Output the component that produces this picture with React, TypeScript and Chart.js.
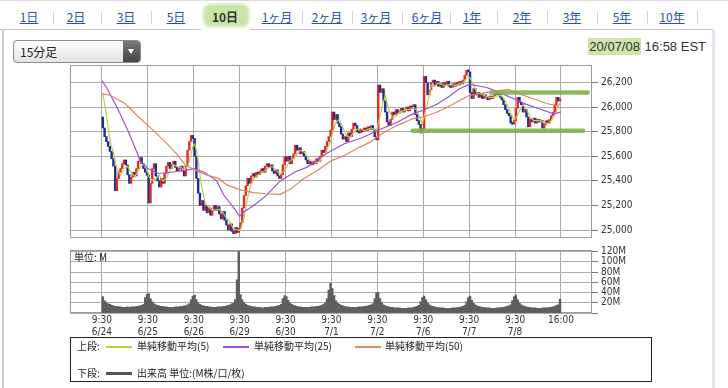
import React, { useEffect, useRef } from 'react';
import { Chart, registerables } from 'chart.js';

Chart.register(...registerables);

// ---------------- data ----------------
const tabLabels = ['1日', '2日', '3日', '5日', '10日', '1ヶ月', '2ヶ月', '3ヶ月', '6ヶ月', '1年', '2年', '3年', '5年', '10年'];
const selectedTab = '10日';
const intervalLabel = '15分足';
const dateStamp = '20/07/08';
const timeStamp = '16:58 EST';
const volumeUnitLabel = '単位: M';
const legendUpper = '上段:';
const legendLower = '下段:';
const maLabels = ['単純移動平均(5)', '単純移動平均(25)', '単純移動平均(50)'];
const volumeLegendLabel = '出来高 単位:(M株/口/枚)';

const dayLabels = ['6/24', '6/25', '6/26', '6/29', '6/30', '7/1', '7/2', '7/6', '7/7', '7/8'];
const openTimeLabel = '9:30';
const closeTimeLabel = '16:00';
const barsPerDay = 26;

const priceTicks = [25000, 25200, 25400, 25600, 25800, 26000, 26200];
const priceMin = 24935;
const priceMax = 26343;
const volumeTicks = [0, 20, 40, 60, 80, 100, 120];
const volumeMax = 123.3;
const barRangeMin = -18.1;
const barRangeMax = 277.6;

const firstOpen = 25920;
// 15-minute closes per day
const close0 = [25830, 25760, 25720, 25680, 25640, 25580, 25520, 25320, 25420, 25470, 25500, 25540, 25570, 25530, 25450, 25380, 25430, 25470, 25440, 25500, 25560, 25590, 25540, 25500, 25470, 25445];
const close1 = [25220, 25380, 25500, 25540, 25440, 25400, 25350, 25420, 25380, 25460, 25520, 25550, 25500, 25530, 25560, 25510, 25480, 25500, 25520, 25480, 25440, 25520, 25650, 25720, 25770, 25745];
const close2 = [25600, 25420, 25300, 25200, 25240, 25160, 25200, 25140, 25180, 25120, 25160, 25200, 25160, 25190, 25130, 25090, 25150, 25080, 25040, 25000, 25050, 24990, 24970, 25020, 24980, 25015];
const close3 = [25060, 25180, 25280, 25360, 25420, 25380, 25440, 25460, 25430, 25470, 25450, 25480, 25500, 25470, 25520, 25540, 25510, 25530, 25480, 25460, 25490, 25440, 25420, 25450, 25530, 25595];
const close4 = [25560, 25600, 25540, 25580, 25620, 25690, 25650, 25670, 25620, 25640, 25600, 25570, 25540, 25560, 25530, 25560, 25540, 25580, 25560, 25600, 25650, 25630, 25680, 25720, 25760, 25812];
const close5 = [25960, 25900, 25940, 25870, 25840, 25780, 25740, 25760, 25720, 25790, 25760, 25820, 25870, 25850, 25800, 25790, 25820, 25800, 25830, 25810, 25840, 25820, 25850, 25820, 25760, 25734];
const close6 = [26180, 26120, 26150, 26050, 25960, 25880, 25850, 25900, 25960, 25940, 25980, 25950, 25970, 25990, 25960, 25980, 26000, 25970, 26010, 25990, 26020, 25940, 25890, 25860, 25790, 25827];
const close7 = [26250, 26200, 26100, 26140, 26200, 26220, 26180, 26210, 26170, 26190, 26160, 26200, 26180, 26210, 26170, 26160, 26190, 26170, 26200, 26180, 26210, 26190, 26220, 26260, 26300, 26287];
const close8 = [26120, 26070, 26150, 26100, 26120, 26080, 26110, 26070, 26100, 26080, 26060, 26090, 26070, 26090, 26110, 26100, 26110, 26080, 26060, 26020, 25980, 25950, 25930, 25870, 25860, 25890];
const close9 = [25990, 26080, 26040, 26020, 25960, 25980, 25920, 25840, 25900, 25880, 25910, 25870, 25900, 25880, 25890, 25830, 25860, 25890, 25870, 25900, 25930, 25960, 26020, 26080, 26050, 26067];

// volume (M) per 15-minute bar
const vol0 = [32, 24, 20, 18, 17, 15, 14, 13, 13, 12, 12, 11, 11, 11, 12, 11, 12, 12, 12, 13, 13, 14, 15, 17, 30, 36];
const vol1 = [38, 28, 22, 18, 16, 15, 14, 13, 13, 12, 12, 11, 11, 11, 11, 12, 12, 12, 13, 13, 14, 14, 16, 18, 26, 33];
const vol2 = [35, 26, 20, 17, 15, 14, 13, 13, 12, 12, 11, 11, 11, 12, 12, 12, 13, 13, 14, 15, 16, 18, 20, 26, 65, 120];
const vol3 = [36, 26, 20, 17, 15, 14, 13, 12, 12, 11, 11, 11, 10, 10, 11, 11, 11, 12, 12, 12, 13, 14, 15, 17, 28, 34];
const vol4 = [32, 25, 20, 17, 15, 14, 13, 12, 12, 11, 11, 11, 11, 11, 12, 12, 12, 13, 13, 14, 15, 17, 20, 28, 45, 58];
const vol5 = [48, 34, 24, 19, 17, 15, 14, 13, 12, 12, 11, 11, 11, 11, 11, 12, 12, 12, 13, 13, 14, 15, 16, 18, 28, 40];
const vol6 = [40, 28, 20, 16, 14, 13, 12, 11, 11, 10, 10, 10, 10, 9, 9, 9, 9, 10, 10, 10, 11, 12, 13, 15, 22, 30];
const vol7 = [33, 26, 20, 16, 14, 13, 12, 11, 11, 10, 10, 10, 9, 9, 9, 9, 10, 10, 10, 11, 11, 12, 13, 15, 22, 30];
const vol8 = [33, 25, 19, 16, 14, 13, 12, 11, 11, 10, 10, 10, 9, 9, 9, 10, 10, 10, 11, 11, 12, 13, 14, 16, 24, 32];
const vol9 = [35, 26, 20, 16, 14, 13, 12, 11, 11, 10, 10, 10, 9, 9, 9, 10, 10, 10, 10, 11, 11, 12, 13, 15, 16, 27];

// moving averages (bar index -> value)
const sma5Bars = [0, 1, 2, 3, 4, 6, 8, 10, 12, 14, 16, 18, 20, 22, 24, 25, 26, 28, 30, 32, 34, 36, 38, 40, 42, 44, 46, 48, 49, 50, 51, 52, 53, 54, 55, 56, 58, 60, 62, 64, 66, 68, 70, 72, 74, 76, 77, 78, 79, 80, 81, 82, 84, 86, 88, 90, 92, 94, 96, 98, 100, 102, 103, 104, 106, 108, 110, 112, 114, 116, 118, 120, 122, 124, 126, 128, 129, 130, 131, 132, 134, 136, 138, 140, 142, 144, 146, 148, 150, 152, 154, 155, 156, 157, 158, 159, 160, 162, 164, 166, 168, 170, 172, 174, 176, 178, 180, 181, 182, 183, 184, 185, 186, 188, 190, 192, 194, 196, 198, 200, 202, 204, 206, 207, 208, 209, 210, 212, 214, 216, 218, 220, 222, 224, 226, 228, 230, 232, 233, 234, 236, 238, 240, 242, 244, 246, 248, 250, 252, 254, 256, 258, 259];
const sma5Values = [26110, 26026, 25934, 25834, 25726, 25628, 25496, 25446, 25500, 25518, 25472, 25434, 25480, 25526, 25532, 25509, 25435, 25403, 25416, 25446, 25398, 25426, 25482, 25532, 25516, 25514, 25484, 25522, 25562, 25620, 25681, 25697, 25651, 25567, 25453, 25352, 25220, 25184, 25160, 25164, 25168, 25144, 25098, 25064, 25010, 25002, 24995, 25009, 25051, 25103, 25179, 25260, 25376, 25426, 25450, 25466, 25484, 25508, 25516, 25494, 25458, 25466, 25487, 25511, 25565, 25580, 25616, 25650, 25636, 25594, 25560, 25546, 25554, 25586, 25624, 25688, 25720, 25786, 25830, 25874, 25902, 25834, 25768, 25754, 25792, 25820, 25826, 25808, 25820, 25830, 25818, 25797, 25869, 25923, 25989, 26047, 26092, 25978, 25910, 25926, 25960, 25970, 25980, 25984, 25998, 25970, 25900, 25861, 25923, 25985, 26033, 26103, 26178, 26168, 26196, 26182, 26180, 26184, 26182, 26178, 26190, 26200, 26236, 26251, 26237, 26207, 26185, 26112, 26112, 26096, 26084, 26080, 26084, 26096, 26092, 26050, 25988, 25918, 25900, 25908, 25972, 26018, 25984, 25920, 25890, 25892, 25890, 25872, 25868, 25890, 25936, 26008, 26035];
const sma25Bars = [0, 3, 9, 15, 19, 22, 26, 32, 39, 47, 52, 58, 65, 69, 75, 78, 80, 86, 93, 101, 109, 116, 124, 130, 137, 148, 156, 167, 176, 182, 190, 197, 202, 208, 218, 225, 233, 240, 248, 256, 260];
const sma25Values = [26215, 26150, 25985, 25800, 25660, 25555, 25500, 25460, 25470, 25485, 25500, 25470, 25400, 25285, 25175, 25110, 25145, 25200, 25280, 25400, 25470, 25510, 25595, 25645, 25700, 25755, 25810, 25875, 25945, 25975, 26025, 26090, 26145, 26185, 26160, 26120, 26070, 26025, 25985, 25945, 25960];
const sma50Bars = [0, 5, 13, 20, 28, 36, 43, 47, 53, 60, 66, 71, 79, 86, 93, 101, 107, 114, 122, 130, 137, 144, 152, 158, 167, 176, 182, 190, 197, 202, 208, 218, 225, 230, 236, 244, 252, 259];
const sma50Values = [26110, 26095, 26030, 25930, 25825, 25715, 25610, 25530, 25485, 25445, 25420, 25365, 25325, 25305, 25295, 25290, 25335, 25415, 25485, 25565, 25605, 25660, 25715, 25780, 25850, 25905, 25920, 25960, 26010, 26050, 26095, 26120, 26135, 26145, 26110, 26070, 26030, 26005];

// hand-drawn green marker lines (price level, bar range)
const resistanceLevel = 26120;
const resistanceBars = [220.5, 275.2];
const supportLevel = 25807;
const supportBars = [176, 272.5];

// ---------------- styles ----------------
const UP = '#e22a2a';
const DOWN = '#1d2f92';
const MA5 = '#b9cf48';
const MA25 = '#a04fdc';
const MA50 = '#e2845e';
const MARK = 'rgba(132,178,82,0.92)';
const GRID = '#ababab';
const FRAME = '#9a9a9a';
const FONT_JP = "'Noto Sans CJK JP', 'Noto Sans', sans-serif";
const FONT_TICK = "'DejaVu Sans Condensed', 'DejaVu Sans', sans-serif";
const FONT_LATIN = "'Liberation Sans', Arial, sans-serif";
const TAB_CENTERS = [29, 76, 126, 176, 225, 277, 327, 376, 427, 472, 522, 572, 622, 672];

const closes = [close0, close1, close2, close3, close4, close5, close6, close7, close8, close9].flat();
const volumes = [vol0, vol1, vol2, vol3, vol4, vol5, vol6, vol7, vol8, vol9].flat();
const nDays = dayLabels.length;
const dayStartTicks = Array.from({ length: nDays + 1 }, (_, d) => d * barsPerDay);

const framePlugin = {
  id: 'frame',
  beforeDatasetsDraw(chart: any) {
    const { ctx, chartArea } = chart;
    ctx.save();
    ctx.strokeStyle = FRAME;
    ctx.lineWidth = 1;
    ctx.strokeRect(chartArea.left + 0.5, chartArea.top + 0.5, chartArea.right - chartArea.left - 1, chartArea.bottom - chartArea.top - 1);
    ctx.restore();
  },
};

const fixTicks = (values: number[]) => (scale: any) => {
  scale.ticks = values.map((v) => ({ value: v }));
};
const fitBox = (w?: number, h?: number) => (scale: any) => {
  if (w !== undefined) scale.width = w;
  if (h !== undefined) scale.height = h;
  scale.paddingTop = 0;
  scale.paddingBottom = 0;
  scale.paddingLeft = 0;
  scale.paddingRight = 0;
};

const tickFont = { family: FONT_TICK, size: 10 };

export default function App() {
  const priceRef = useRef<HTMLCanvasElement>(null);
  const volRef = useRef<HTMLCanvasElement>(null);

  useEffect(() => {
    const opens = closes.map((_, i) => (i === 0 ? firstOpen : closes[i - 1]));
    const candleData = closes.map((c, i) => ({ x: i + 0.5, y: [opens[i], c] }));
    const candleColors = closes.map((c, i) => (c >= opens[i] ? UP : DOWN));
    const toPts = (bars: number[], vals: number[], shift: number) => bars.map((b, i) => ({ x: b + shift, y: vals[i] }));

    const lineDs = (data: any[], color: string, width: number, order: number, cap: any = 'butt') => ({
      type: 'line' as const,
      data,
      borderColor: color,
      borderWidth: width,
      borderCapStyle: cap,
      pointRadius: 0,
      tension: 0,
      fill: false,
      order,
    });

    const xScale = (showLabels: boolean, height: number) => ({
      type: 'linear' as const,
      min: barRangeMin,
      max: barRangeMax,
      offset: false,
      afterBuildTicks: fixTicks(dayStartTicks),
      afterFit: fitBox(undefined, height),
      border: { display: false },
      grid: { color: GRID, drawTicks: false, offset: false, lineWidth: 1 },
      ticks: {
        display: showLabels,
        autoSkip: false,
        maxRotation: 0,
        minRotation: 0,
        padding: 1,
        color: '#333',
        font: { ...tickFont, lineHeight: 1.25 },
        callback: (value: any) => {
          const d = dayStartTicks.indexOf(Number(value));
          return d < nDays ? [openTimeLabel, dayLabels[d]] : closeTimeLabel;
        },
      },
    });

    const price = new Chart(priceRef.current!, {
      type: 'bar',
      data: {
        datasets: [
          lineDs([{ x: resistanceBars[0], y: resistanceLevel }, { x: resistanceBars[1], y: resistanceLevel }], MARK, 4.5, 0, 'round'),
          lineDs([{ x: supportBars[0], y: supportLevel }, { x: supportBars[1], y: supportLevel }], MARK, 4.5, 0, 'round'),
          lineDs(toPts(sma50Bars, sma50Values, 0), MA50, 1.2, 1),
          lineDs(toPts(sma25Bars, sma25Values, 0), MA25, 1.2, 1),
          lineDs(toPts(sma5Bars, sma5Values, 0.5), MA5, 1.2, 1),
          {
            type: 'bar' as const,
            data: candleData as any,
            backgroundColor: candleColors,
            borderWidth: 0,
            minBarLength: 2,
            barPercentage: 1,
            categoryPercentage: 1,
            order: 2,
          },
        ] as any,
      },
      options: {
        animation: false,
        responsive: false,
        devicePixelRatio: 1,
        layout: { padding: { left: 70, top: 5, right: 0, bottom: 7 } },
        plugins: { legend: { display: false }, tooltip: { enabled: false } },
        scales: {
          x: xScale(false, 0) as any,
          y: {
            type: 'linear',
            position: 'right',
            min: priceMin,
            max: priceMax,
            afterBuildTicks: fixTicks(priceTicks),
            afterFit: fitBox(136),
            border: { display: false },
            grid: { color: GRID, drawTicks: true, tickLength: 6, tickColor: '#777' },
            ticks: {
              autoSkip: false,
              padding: 3,
              color: '#333',
              font: tickFont,
              callback: (v: any) => Number(v).toLocaleString('en-US'),
            },
          },
        },
      },
      plugins: [framePlugin],
    });

    const volume = new Chart(volRef.current!, {
      type: 'bar',
      data: {
        datasets: [
          {
            data: volumes.map((v, i) => ({ x: i + 0.5, y: v })) as any,
            backgroundColor: '#5e5e5e',
            borderWidth: 0,
            barPercentage: 1,
            categoryPercentage: 1,
          },
        ],
      },
      options: {
        animation: false,
        responsive: false,
        devicePixelRatio: 1,
        layout: { padding: { left: 70, top: 5, right: 0, bottom: 0 } },
        plugins: { legend: { display: false }, tooltip: { enabled: false } },
        scales: {
          x: xScale(true, 27) as any,
          y: {
            type: 'linear',
            position: 'right',
            min: 0,
            max: volumeMax,
            afterBuildTicks: fixTicks(volumeTicks),
            afterFit: fitBox(136),
            border: { display: false },
            grid: { color: GRID, drawTicks: true, tickLength: 6, tickColor: '#777' },
            ticks: {
              autoSkip: false,
              padding: 3,
              color: '#333',
              font: { ...tickFont, lineHeight: 1 },
              callback: (v: any) => (Number(v) === 0 ? '' : `${v}M`),
            },
          },
        },
      },
      plugins: [framePlugin],
    });

    return () => {
      price.destroy();
      volume.destroy();
    };
  }, []);

  const selIdx = tabLabels.indexOf(selectedTab);
  const separators: number[] = [];
  for (let i = 0; i < TAB_CENTERS.length - 1; i++) {
    if (i === selIdx - 1 || i === selIdx) continue;
    separators.push((TAB_CENTERS[i] + TAB_CENTERS[i + 1]) / 2);
  }
  separators.push(TAB_CENTERS[TAB_CENTERS.length - 1] + 25);

  const legendLine = (left: number, top: number, color: string, h: number) => (
    <div style={{ position: 'absolute', left, top, width: 26, height: h, background: color }} />
  );
  const legendText = (left: number, top: number, text: string) => (
    <div style={{ position: 'absolute', left, top, fontSize: 10, lineHeight: '12px', whiteSpace: 'nowrap', color: '#222' }}>{text}</div>
  );

  return (
    <div style={{ position: 'absolute', left: 0, top: 0, width: 728, height: 388, background: '#fff', overflow: 'hidden', fontFamily: FONT_JP }}>
      <div style={{ position: 'absolute', left: 0, top: 0, width: 728, height: 1, background: '#dcdcdc' }} />
      {/* panel frame */}
      <div style={{ position: 'absolute', left: 0, top: 29, width: 201, height: 1, background: '#c2c2c2' }} />
      <div style={{ position: 'absolute', left: 250, top: 29, width: 464, height: 1, background: '#c2c2c2' }} />
      <div style={{ position: 'absolute', left: 2, top: 29, width: 2, height: 359, background: '#c7d1dc' }} />
      <div style={{ position: 'absolute', left: 712, top: 29, width: 3, height: 359, background: '#e0e6ed' }} />
      {/* selected tab highlight */}
      <div style={{ position: 'absolute', left: 203, top: 4, width: 46, height: 23, background: 'rgba(188,222,146,0.8)', borderRadius: 7, filter: 'blur(1.5px)' }} />
      {tabLabels.map((t, i) => (
        <div
          key={t}
          style={{
            position: 'absolute',
            left: TAB_CENTERS[i] - 30,
            top: 9,
            width: 60,
            textAlign: 'center',
            fontSize: 12,
            lineHeight: '16px',
            color: i === selIdx ? '#333' : '#2a52a8',
            fontWeight: i === selIdx ? 700 : 400,
            textDecoration: i === selIdx ? 'none' : 'underline',
            whiteSpace: 'nowrap',
          }}
        >
          {t}
        </div>
      ))}
      {separators.map((x) => (
        <div key={x} style={{ position: 'absolute', left: Math.round(x), top: 11, width: 1, height: 13, background: '#d3d3d3' }} />
      ))}
      {/* interval dropdown */}
      <div
        style={{
          position: 'absolute',
          left: 13,
          top: 40,
          width: 128,
          height: 23,
          boxSizing: 'border-box',
          border: '1px solid #8c8c8c',
          borderRadius: 4,
          background: 'linear-gradient(#ffffff, #e4e4e4)',
          overflow: 'hidden',
        }}
      >
        <div style={{ position: 'absolute', left: 6, top: 3, fontSize: 12, lineHeight: '15px', color: '#222' }}>{intervalLabel}</div>
        <div style={{ position: 'absolute', right: 0, top: 0, width: 17, height: 21, background: 'linear-gradient(#7a7a7a, #454545)' }}>
          <div style={{ position: 'absolute', left: 5, top: 8, width: 0, height: 0, borderLeft: '3.5px solid transparent', borderRight: '3.5px solid transparent', borderTop: '5px solid #fff' }} />
        </div>
      </div>
      {/* timestamp */}
      <div style={{ position: 'absolute', right: 22, top: 38, fontFamily: FONT_LATIN, fontSize: 13, lineHeight: '17px', color: '#333', whiteSpace: 'nowrap' }}>
        <span style={{ background: '#cde4aa', padding: '1px 1px' }}>{dateStamp}</span> {timeStamp}
      </div>
      {/* charts */}
      <canvas ref={priceRef} width={728} height={185} style={{ position: 'absolute', left: 0, top: 60, width: 728, height: 185 }} />
      <canvas ref={volRef} width={728} height={95} style={{ position: 'absolute', left: 0, top: 245, width: 728, height: 95 }} />
      <div style={{ position: 'absolute', left: 74, top: 251, fontSize: 10, lineHeight: '12px', color: '#222' }}>{volumeUnitLabel}</div>
      {/* legend */}
      <div style={{ position: 'absolute', left: 70, top: 337, width: 582, height: 45, boxSizing: 'border-box', border: '1px solid #222' }}>
        {legendText(6, 2, legendUpper)}
        {legendLine(35, 8, MA5, 1.5)}
        {legendText(66, 2, maLabels[0])}
        {legendLine(152, 8, MA25, 1.5)}
        {legendText(183, 2, maLabels[1])}
        {legendLine(284, 8, MA50, 1.5)}
        {legendText(314, 2, maLabels[2])}
        {legendText(6, 29, legendLower)}
        {legendLine(35, 34, '#555', 3)}
        {legendText(66, 29, volumeLegendLabel)}
      </div>
    </div>
  );
}
